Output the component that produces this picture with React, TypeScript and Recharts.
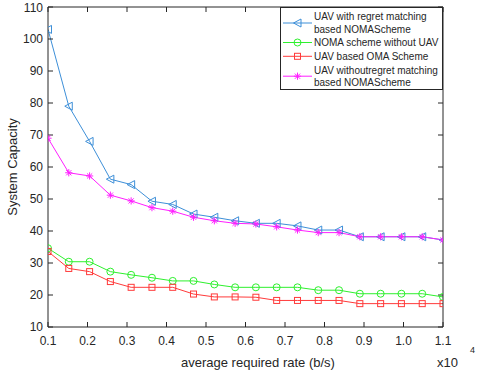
import React from 'react';
import { LineChart, Line, XAxis, YAxis } from 'recharts';

const rates = [0.1, 0.1526, 0.2053, 0.2579, 0.3105, 0.3632, 0.4158, 0.4684, 0.5211, 0.5737, 0.6263, 0.6789, 0.7316, 0.7842, 0.8368, 0.8895, 0.9421, 0.9947, 1.0474, 1.1];
const regretNoma = [103, 79, 68, 56.2, 54.5, 49.3, 48.3, 45.3, 44.3, 43.2, 42.4, 42.4, 41.6, 40.3, 40.3, 38.2, 38.2, 38.2, 38.2, 37.2];
const nomaNoUav = [34.6, 30.4, 30.4, 27.3, 26.3, 25.4, 24.4, 24.4, 23.3, 22.4, 22.4, 22.4, 22.4, 21.5, 21.5, 20.4, 20.4, 20.4, 20.4, 19.4];
const omaUav = [33.6, 28.3, 27.3, 24.2, 22.4, 22.4, 22.4, 20.3, 19.4, 19.4, 19.3, 18.3, 18.3, 18.3, 18.3, 17.3, 17.3, 17.3, 17.3, 17.3];
const noRegretNoma = [69, 58.2, 57.2, 51.2, 49.4, 47.3, 46.2, 44.3, 43.2, 42.4, 42.2, 41.3, 40.3, 39.5, 39.5, 38.2, 38.2, 38.2, 38.2, 37.2];

const xTicks = [0.1, 0.2, 0.3, 0.4, 0.5, 0.6, 0.7, 0.8, 0.9, 1.0, 1.1];
const yTicks = [10, 20, 30, 40, 50, 60, 70, 80, 90, 100, 110];

const legendLabels = [
  ['UAV with regret matching', 'based NOMAScheme'],
  ['NOMA scheme without UAV'],
  ['UAV based OMA Scheme'],
  ['UAV withoutregret matching', 'based NOMAScheme'],
];

const BLUE = '#3d8fd8';
const GREEN = '#2ef02e';
const RED = '#ff3a3a';
const MAGENTA = '#ff1fff';
const AXIS = '#262626';
const FONT = '"Liberation Sans", Arial, sans-serif';

const data = rates.map((x, i) => ({
  x,
  a: regretNoma[i],
  b: nomaNoUav[i],
  c: omaUav[i],
  d: noRegretNoma[i],
}));

type MarkerKind = 'tri' | 'circle' | 'square' | 'star';

function Marker({ kind, cx, cy, color }: { kind: MarkerKind; cx: number; cy: number; color: string }) {
  if (kind === 'tri') {
    return (
      <polygon
        points={`${cx - 4},${cy} ${cx + 3.5},${cy - 4} ${cx + 3.5},${cy + 4}`}
        fill="none"
        stroke={color}
        strokeWidth={1}
      />
    );
  }
  if (kind === 'circle') {
    return <circle cx={cx} cy={cy} r={3.5} fill="none" stroke={color} strokeWidth={1} />;
  }
  if (kind === 'square') {
    return <rect x={cx - 3} y={cy - 3} width={6} height={6} fill="none" stroke={color} strokeWidth={1} />;
  }
  const s = 3.6;
  const d = 2.6;
  return (
    <g stroke={color} strokeWidth={1}>
      <line x1={cx - s} y1={cy} x2={cx + s} y2={cy} />
      <line x1={cx} y1={cy - s} x2={cx} y2={cy + s} />
      <line x1={cx - d} y1={cy - d} x2={cx + d} y2={cy + d} />
      <line x1={cx - d} y1={cy + d} x2={cx + d} y2={cy - d} />
    </g>
  );
}

const makeDot = (kind: MarkerKind, color: string) => (props: any) => {
  const { cx, cy, index } = props;
  if (cx == null || cy == null) return <g key={index} />;
  return (
    <g key={`${kind}-${index}`}>
      <Marker kind={kind} cx={cx} cy={cy} color={color} />
    </g>
  );
};

const legendItems: { kind: MarkerKind; color: string; lines: string[] }[] = [
  { kind: 'tri', color: BLUE, lines: legendLabels[0] },
  { kind: 'circle', color: GREEN, lines: legendLabels[1] },
  { kind: 'square', color: RED, lines: legendLabels[2] },
  { kind: 'star', color: MAGENTA, lines: legendLabels[3] },
];

function LegendBox() {
  const rows = [
    { markerY: 24, textY: [17.5, 30.8] },
    { markerY: 43.5, textY: [43.5] },
    { markerY: 57.3, textY: [57.3] },
    { markerY: 77.2, textY: [71, 83.5] },
  ];
  return (
    <svg width={163} height={83} style={{ display: 'block' }}>
      <rect x={0.5} y={0.5} width={162} height={82} fill="#fff" stroke={AXIS} strokeWidth={1} />
      {legendItems.map((it, i) => {
        const r = rows[i];
        return (
          <g key={i}>
            <line x1={3} y1={r.markerY - 8} x2={32} y2={r.markerY - 8} stroke={it.color} strokeWidth={1} />
            <Marker kind={it.kind} cx={17.5} cy={r.markerY - 8} color={it.color} />
            {it.lines.map((t, j) => (
              <text
                key={j}
                x={34}
                y={r.textY[j] - 8}
                fontSize={10}
                fontFamily={FONT}
                fill={AXIS}
                dominantBaseline="central"
              >
                {t}
              </text>
            ))}
          </g>
        );
      })}
    </svg>
  );
}

function XLabel() {
  return (
    <g fontFamily={FONT} fill={AXIS}>
      <text x={258} y={362} fontSize={13} textAnchor="middle" dominantBaseline="central" fill={AXIS}>
        average required rate (b/s)
      </text>
      <text x={437} y={362} fontSize={13} dominantBaseline="central" fill={AXIS}>
        x10
      </text>
      <text x={470} y={350} fontSize={9} dominantBaseline="central" fill={AXIS}>
        4
      </text>
    </g>
  );
}

export default function App() {
  return (
    <div style={{ position: 'absolute', left: 0, top: 0, width: 480, height: 375, background: '#fff' }}>
      <LineChart
        width={480}
        height={375}
        data={data}
        margin={{ top: 6, right: 36, bottom: 18, left: 8 }}
        style={{ fontFamily: FONT }}
      >
        <XAxis
          xAxisId="bottom"
          dataKey="x"
          type="number"
          domain={[0.1, 1.1]}
          ticks={xTicks}
          allowDataOverflow
          tickFormatter={(v: number) => v.toFixed(1)}
          tickSize={-5}
          tickMargin={14}
          height={30}
          stroke={AXIS}
          tick={{ fill: AXIS, fontSize: 12, fontFamily: FONT }}
          label={<XLabel />}
        />
        <XAxis
          xAxisId="top"
          dataKey="x"
          orientation="top"
          type="number"
          domain={[0.1, 1.1]}
          ticks={xTicks}
          allowDataOverflow
          tickSize={-5}
          tickFormatter={() => ''}
          height={1}
          stroke={AXIS}
        />
        <YAxis
          yAxisId="left"
          type="number"
          domain={[10, 110]}
          ticks={yTicks}
          allowDataOverflow
          tickSize={-5}
          tickMargin={10}
          width={40}
          stroke={AXIS}
          tick={{ fill: AXIS, fontSize: 12, fontFamily: FONT }}
          label={{
            value: 'System Capacity',
            angle: -90,
            position: 'insideLeft',
            offset: 0,
            dx: 4,
            style: { fill: AXIS, fontSize: 13, fontFamily: FONT, textAnchor: 'middle' },
          }}
        />
        <YAxis
          yAxisId="right"
          orientation="right"
          type="number"
          domain={[10, 110]}
          ticks={yTicks}
          allowDataOverflow
          tickSize={-5}
          tickFormatter={() => ''}
          width={1}
          stroke={AXIS}
        />
        <Line
          xAxisId="top"
          yAxisId="right"
          dataKey="a"
          stroke="none"
          dot={false}
          legendType="none"
          isAnimationActive={false}
          activeDot={false}
        />
        <Line
          xAxisId="bottom"
          yAxisId="left"
          dataKey="a"
          stroke={BLUE}
          strokeWidth={1}
          isAnimationActive={false}
          dot={makeDot('tri', BLUE)}
          activeDot={false}
        />
        <Line
          xAxisId="bottom"
          yAxisId="left"
          dataKey="b"
          stroke={GREEN}
          strokeWidth={1}
          isAnimationActive={false}
          dot={makeDot('circle', GREEN)}
          activeDot={false}
        />
        <Line
          xAxisId="bottom"
          yAxisId="left"
          dataKey="c"
          stroke={RED}
          strokeWidth={1}
          isAnimationActive={false}
          dot={makeDot('square', RED)}
          activeDot={false}
        />
        <Line
          xAxisId="bottom"
          yAxisId="left"
          dataKey="d"
          stroke={MAGENTA}
          strokeWidth={1}
          isAnimationActive={false}
          dot={makeDot('star', MAGENTA)}
          activeDot={false}
        />
      </LineChart>
      <div style={{ position: 'absolute', left: 280, top: 7, width: 163, height: 83 }}>
        <LegendBox />
      </div>
    </div>
  );
}
